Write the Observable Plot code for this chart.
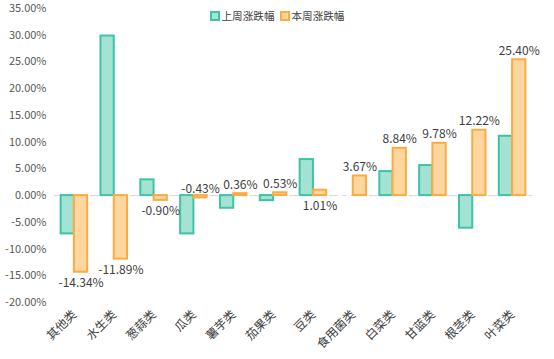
<!DOCTYPE html>
<html><head><meta charset="utf-8">
<script src="https://cdn.jsdelivr.net/npm/d3@7"></script>
<script src="https://cdn.jsdelivr.net/npm/@observablehq/plot@0.6"></script>
<style>
html,body{margin:0;padding:0;background:#fff;}
#wrap{position:relative;width:554px;height:359px;font-family:"Noto Sans CJK SC","Noto Sans",sans-serif;}
#legend{position:absolute;top:8px;left:0;width:554px;display:flex;justify-content:center;gap:5px;font-size:10.6px;color:#404040;line-height:16px;}
#legend span.item{display:flex;align-items:center;}
#legend i{display:inline-block;width:6px;height:6px;border:2px solid;margin-right:2px;}
</style></head>
<body><div id="wrap"><div id="legend"></div></div>
<script>
const categories = ["其他类","水生类","葱蒜类","瓜类","薯芋类","茄果类","豆类","食用菌类","白菜类","甘蓝类","根茎类","叶菜类"];
const seriesNames = ["上周涨跌幅","本周涨跌幅"];
const lastWeek = [-7.17, 29.85, 2.95, -7.17, -2.37, -0.94, 6.74, null, 4.49, 5.62, -6.10, 11.10];
const thisWeek = [-14.34, -11.89, -0.90, -0.43, 0.36, 0.53, 1.01, 3.67, 8.84, 9.78, 12.22, 25.40];
const yTicks = [-20, -15, -10, -5, 0, 5, 10, 15, 20, 25, 30, 35];

const fills = ["#a4e2d4", "#fed7a0"];
const strokes = ["#3ec3a5", "#fbab42"];
const flipLabel = new Set(["瓜类", "豆类"]);

const rows = [];
categories.forEach((c, i) => {
  if (lastWeek[i] != null) rows.push({cat: c, series: seriesNames[0], value: lastWeek[i]});
  if (thisWeek[i] != null) rows.push({cat: c, series: seriesNames[1], value: thisWeek[i]});
});
const labels = rows.filter(d => d.series === seriesNames[1]).map(d => {
  let above = d.value >= 0;
  if (flipLabel.has(d.cat)) above = !above;
  return {...d, above};
});

const fmt = v => v.toFixed(2) + "%";

const chart = Plot.plot({
  width: 554, height: 359,
  marginLeft: 54, marginRight: 22, marginTop: 8, marginBottom: 57,
  style: {fontFamily: '"Noto Sans CJK SC","Noto Sans",sans-serif', fontSize: "11px", background: "#fff"},
  fx: {domain: categories, padding: 0, round: false, label: null},
  x: {domain: seriesNames, paddingInner: 0, paddingOuter: 0.5, round: false, axis: null},
  y: {domain: [-20, 35], label: null},
  color: {domain: seriesNames, range: fills},
  marks: [
    Plot.axisY({ticks: yTicks, tickFormat: fmt, tickSize: 0, tickPadding: 8, fill: "#595959", fontSize: 11}),
    Plot.axisFx({anchor: "bottom", tickRotate: -45, tickSize: 0, tickPadding: 10, fill: "#404040", fontSize: 12, label: null}),
    Plot.ruleY([0], {stroke: "#d6d6d6", strokeDasharray: "5,4", strokeWidth: 1}),
    Plot.barY(rows, {fx: "cat", x: "series", y: "value", fill: "series",
      stroke: d => strokes[seriesNames.indexOf(d.series)], strokeWidth: 2}),
    Plot.text(labels.filter(d => d.above), {fx: "cat", x: "series", y: "value", text: d => fmt(d.value), dy: -9, fill: "#404040", fontSize: 12}),
    Plot.text(labels.filter(d => !d.above), {fx: "cat", x: "series", y: d => Math.min(d.value, 0), text: d => fmt(d.value), dy: 11, fill: "#404040", fontSize: 12})
  ]
});
document.getElementById("wrap").appendChild(chart);

const legend = document.getElementById("legend");
seriesNames.forEach((s, i) => {
  const it = document.createElement("span");
  it.className = "item";
  it.innerHTML = `<i style="background:${fills[i]};border-color:${strokes[i]}"></i>${s}`;
  legend.appendChild(it);
});
</script></body></html>
